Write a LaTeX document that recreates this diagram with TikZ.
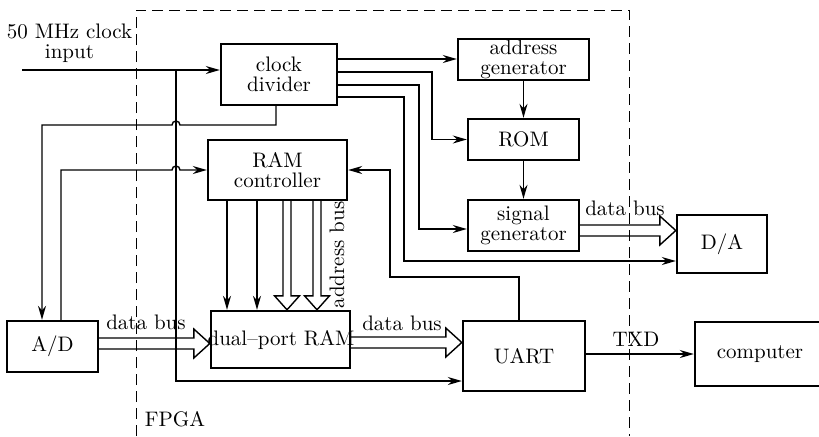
\documentclass[tikz,border=0pt]{standalone}
\usetikzlibrary{arrows.meta,calc}
\newcommand{\hbusarrow}[2]{%
  \draw[wire] ($(#1)+(0,-5.5)$) -- ($(#2)+(-16,-5.5)$) -- ($(#2)+(-16,-14.5)$) -- (#2)
    -- ($(#2)+(-16,14.5)$) -- ($(#2)+(-16,5.5)$) -- ($(#1)+(0,5.5)$);}
\newcommand{\vbusarrow}[2]{%
  \draw[wire] ($(#1)+(-4,0)$) -- ($(#2)+(-4,-14)$) -- ($(#2)+(-12.5,-14)$) -- (#2)
    -- ($(#2)+(12.5,-14)$) -- ($(#2)+(4,-14)$) -- ($(#1)+(4,0)$);}
\begin{document}
\begin{tikzpicture}[x=0.5pt,y=-0.5pt,
  every node/.style={font=\fontsize{10.5}{10}\selectfont},
  blk/.style={draw,line width=1.2pt,inner sep=0pt,align=center},
  wire/.style={line width=0.7pt},
  arr/.style={wire,-{Stealth[length=7pt,width=4pt]}},
  fpga/.style={line width=0.5pt,dash pattern=on 5.5pt off 3pt},
  lbl/.style={inner sep=0pt}]
\useasboundingbox (0,0) rectangle (819,436);

% FPGA frame
\coordinate (f1) at (136,436);
\coordinate (f2) at (136,10);
\coordinate (f3) at (629,10);
\coordinate (f4) at (629,436);
\draw[fpga] (f1) -- (f2) -- (f3) -- (f4);
\node[lbl] (fpgalbl) at (175,419) {FPGA};

% blocks
\node[blk,minimum width=58pt,minimum height=30.5pt] (clk) at (279,74.5) {clock\\divider};
\node[blk,minimum width=65.5pt,minimum height=20.5pt] (addr) at (523.5,59.5) {address\\generator};
\node[blk,minimum width=55.5pt,minimum height=20.5pt] (rom) at (523.5,139.5) {ROM};
\node[blk,minimum width=55.5pt,minimum height=25.5pt] (sig) at (523.5,225.5) {signal\\generator};
\node[blk,minimum width=69.5pt,minimum height=30pt] (ramc) at (277.5,170) {RAM\\controller};
\node[blk,minimum width=69.5pt,minimum height=28.5pt] (dpram) at (280.5,339.5) {};
\node[lbl] (dptext) at (281,340) {dual--port RAM};
\node[blk,minimum width=45.5pt,minimum height=25.5pt] (ad) at (52.5,346.5) {A/D};
\node[blk,minimum width=45pt,minimum height=29pt] (da) at (722,244) {D/A};
\node[blk,minimum width=61pt,minimum height=35pt] (uart) at (524,356) {UART};
\node[blk,minimum width=65pt,minimum height=32pt] (comp) at (760,354) {computer};

% clock input
\node[lbl,align=center] (inlbl) at (69.5,43) {50 MHz clock\\input};
\coordinate (in) at (22,70);
\coordinate (j) at (176,70);
\draw[arr] (in) -- (in -| clk.west);
\draw[arr] (j) -- (176,381) -- (uart.west |- 0,381);

% clock divider outputs
\draw[arr] (clk.east |- 0,59) -- (addr.west |- 0,59);
\draw[arr] (clk.east |- 0,72) -- (432,72) -- (432,139.5) -- (rom.west);
\draw[arr] (clk.east |- 0,85) -- (419,85) -- (419,229) -- (sig.west |- 0,229);
\draw[arr] (clk.east |- 0,97) -- (404,97) -- (404,261) -- (da.west |- 0,261);
\draw[arr] (clk.south -| 276,0) -- (276,125) -- (180,125)
   arc[start angle=0,end angle=180,radius=2pt] -- (42,125) -- (ad.north -| 42,0);

% A/D to RAM controller
\draw[arr] (ad.north -| 61,0) -- (61,170) -- (172,170)
   arc[start angle=180,end angle=0,radius=2pt] -- (ramc.west);

% UART to RAM controller
\draw[arr] (uart.north -| 519,0) -- (519,277) -- (390,277) -- (390,170) -- (ramc.east);

% ROM chain
\draw[arr] (addr.south) -- (rom.north);
\draw[arr] (rom.south) -- (sig.north);

% RAM controller to dual-port RAM
\draw[arr] (ramc.south -| 227,0) -- (dpram.north -| 227,0);
\draw[arr] (ramc.south -| 257,0) -- (dpram.north -| 257,0);
\coordinate (v1s) at (ramc.south -| 287,0);
\coordinate (v1e) at (dpram.north -| 287,0);
\vbusarrow{v1s}{v1e}
\coordinate (v2s) at (ramc.south -| 317,0);
\coordinate (v2e) at (dpram.north -| 317,0);
\vbusarrow{v2s}{v2e}
\node[lbl,rotate=90] (addrbus) at (337,255) {address bus};

% data buses
\coordinate (b1s) at (ad.east |- 0,343.5);
\coordinate (b1e) at (dpram.west |- 0,343.5);
\hbusarrow{b1s}{b1e}
\node[lbl] (db1) at (146,322) {data bus};
\coordinate (b2s) at (dpram.east |- 0,342.5);
\coordinate (b2e) at (uart.west |- 0,342.5);
\hbusarrow{b2s}{b2e}
\node[lbl] (db2) at (402,323) {data bus};
\coordinate (b3s) at (sig.east |- 0,230.5);
\coordinate (b3e) at (da.west |- 0,230.5);
\hbusarrow{b3s}{b3e}
\node[lbl] (db3) at (625,208) {data bus};

% TXD
\draw[arr] (uart.east |- 0,354) -- (comp.west |- 0,354);
\node[lbl] (txd) at (636,339) {TXD};
\end{tikzpicture}
\end{document}
